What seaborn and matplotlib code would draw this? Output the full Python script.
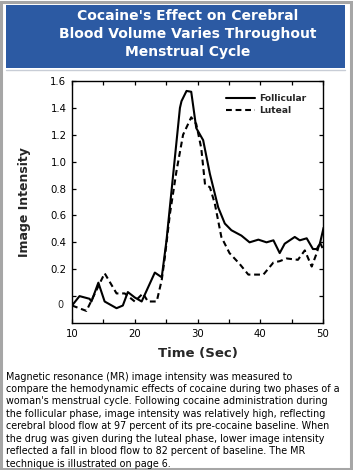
import matplotlib
matplotlib.use("Agg")
import matplotlib.pyplot as plt
import seaborn as sns
import pandas as pd
from matplotlib.patches import Rectangle
from matplotlib.lines import Line2D

# ---- data ----
fol_t = [10, 11.2, 12.8, 13.1, 14.2, 15.2, 17.1, 18.1, 18.9, 20.0, 21.1, 23.2, 24.3, 25.05,
         27.2, 27.45, 28.25, 29.0, 29.8, 30.9, 31.97, 33.3, 34.35, 35.4, 37.0, 38.3, 39.7,
         41.0, 42.1, 43.1, 43.9, 45.5, 46.3, 47.4, 48.4, 49.0, 49.5, 50.1]
fol_v = [-0.07, 0.0, -0.02, -0.04, 0.10, -0.04, -0.09, -0.07, 0.03, -0.01, -0.04, 0.175, 0.14, 0.41,
         1.40, 1.45, 1.526, 1.52, 1.25, 1.16, 0.91, 0.66, 0.54, 0.49, 0.45, 0.40, 0.42,
         0.40, 0.415, 0.32, 0.39, 0.44, 0.415, 0.43, 0.35, 0.35, 0.39, 0.51]
lut_t = [10, 12.3, 15.2, 17.1, 18.4, 20.0, 21.3, 22.1, 23.5, 24.3, 24.8, 25.6, 26.65, 27.7,
         29.0, 29.8, 30.6, 31.2, 31.97, 32.75, 33.8, 35.1, 36.7, 38.1, 40.5, 42.1, 43.1,
         44.2, 46.0, 47.1, 48.2, 49.0, 49.5, 50.1]
lut_v = [-0.07, -0.11, 0.17, 0.02, 0.02, -0.04, 0.02, -0.04, -0.04, 0.12, 0.29, 0.61, 0.93, 1.2,
         1.33, 1.28, 1.1, 0.83, 0.81, 0.69, 0.44, 0.32, 0.24, 0.16, 0.16, 0.25, 0.26,
         0.28, 0.27, 0.34, 0.22, 0.32, 0.40, 0.34]
series_names = ["Follicular", "Luteal"]
x_ticks = [10, 20, 30, 40, 50]
y_ticks = [0, 0.2, 0.4, 0.6, 0.8, 1.0, 1.2, 1.4, 1.6]
y_tick_labels = ["0", "0.2", "0.4", "0.6", "0.8", "1.0", "1.2", "1.4", "1.6"]

title = "Cocaine's Effect on Cerebral\nBlood Volume Varies Throughout\nMenstrual Cycle"
caption = ("Magnetic resonance (MR) image intensity was measured to\n"
           "compare the hemodynamic effects of cocaine during two phases of a\n"
           "woman's menstrual cycle. Following cocaine administration during\n"
           "the follicular phase, image intensity was relatively high, reflecting\n"
           "cerebral blood flow at 97 percent of its pre-cocaine baseline. When\n"
           "the drug was given during the luteal phase, lower image intensity\n"
           "reflected a fall in blood flow to 82 percent of baseline. The MR\n"
           "technique is illustrated on page 6.")

df_f = pd.DataFrame({"time": fol_t, "intensity": fol_v, "phase": series_names[0]})
df_l = pd.DataFrame({"time": lut_t, "intensity": lut_v, "phase": series_names[1]})

sns.set_theme(style="white")
plt.rcParams["font.family"] = ["DejaVu Sans"]

W, H = 353, 470
fig = plt.figure(figsize=(W / 100, H / 100), dpi=100)
fig.patch.set_facecolor("white")

# outer border
fig.add_artist(Rectangle((0.5 / W, 1.5 / H), (W - 2.5) / W, (H - 3) / H, transform=fig.transFigure,
                         fill=False, edgecolor="#a6a6a6", linewidth=2.2))
# title banner
fig.add_artist(Rectangle((6 / W, 1 - 68 / H), (345 - 6) / W, (68 - 5) / H, transform=fig.transFigure,
                         facecolor="#2c5aa3", edgecolor="none"))
fig.add_artist(Line2D([6 / W, 345 / W], [1 - 69.5 / H, 1 - 69.5 / H], transform=fig.transFigure,
                      color="#c8cdd6", linewidth=1))
fig.text(188 / W, 1 - 34 / H, title, color="white", fontsize=10, fontweight="bold",
         ha="center", va="center", linespacing=1.32)

ax = fig.add_axes([72 / W, 1 - 323 / H, (323 - 72) / W, (323 - 81) / H])
sns.lineplot(data=df_f, x="time", y="intensity", ax=ax, color="black", linewidth=1.5,
             label=series_names[0], sort=False, estimator=None)
sns.lineplot(data=df_l, x="time", y="intensity", ax=ax, color="black", linewidth=1.5,
             linestyle=(0, (2.8, 1.8)), label=series_names[1], sort=False, estimator=None)

ax.set_xlim(10, 50)
ax.set_ylim(-0.2, 1.6)
ax.set_xticks(x_ticks)
ax.set_xticks([15, 25, 35, 45], minor=True)
ax.set_yticks(y_ticks)
ax.set_yticklabels([""] + y_tick_labels[1:])
ax.text(-0.035, -0.065, y_tick_labels[0], transform=ax.get_yaxis_transform(),
        ha="right", va="center", fontsize=7)
ax.tick_params(axis="both", which="both", direction="in", length=3, width=0.9,
               top=True, right=True, bottom=True, left=True, labelsize=7.3, pad=4, colors="black")
ax.tick_params(axis="x", which="minor", length=3)
for s in ax.spines.values():
    s.set_visible(True)
    s.set_color("black")
    s.set_linewidth(1.0)

ax.set_xlabel("Time (Sec)", fontsize=9.5, fontweight="bold", labelpad=6)
ax.set_ylabel("Image Intensity", fontsize=9, fontweight="bold", labelpad=14)

leg = ax.legend(loc="upper left", bbox_to_anchor=(226 / W, 1 - 94 / H), bbox_transform=fig.transFigure,
                frameon=False, fontsize=6.6, handlelength=3.2, handletextpad=0.4,
                labelspacing=0.35, borderpad=0, borderaxespad=0)
for t in leg.get_texts():
    t.set_fontweight("bold")

fig.text(6 / W, 1 - 371.5 / H, caption, fontsize=6.95, ha="left", va="top", linespacing=1.31,
         color="black")

fig.savefig("out.png", dpi=100, facecolor="white")
